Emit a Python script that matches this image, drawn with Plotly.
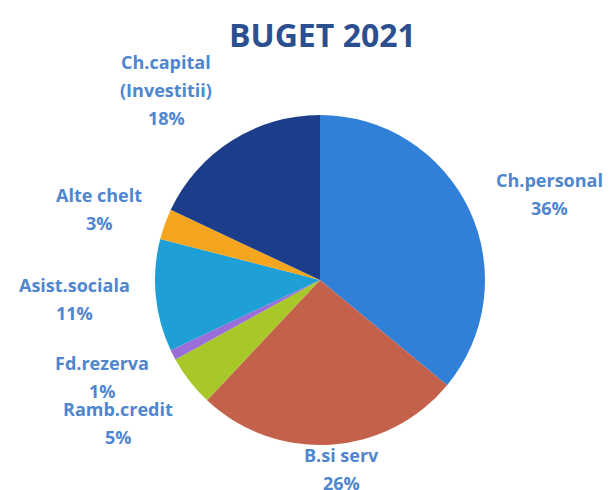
import plotly.graph_objects as go

# Data
categories = ["Ch.personal", "B.si serv", "Ramb.credit", "Fd.rezerva",
              "Asist.sociala", "Alte chelt", "Ch.capital (Investitii)"]
label_lines = [["Ch.personal"], ["B.si serv"], ["Ramb.credit"], ["Fd.rezerva"],
               ["Asist.sociala"], ["Alte chelt"], ["Ch.capital", "(Investitii)"]]
values = [36, 26, 5, 1, 11, 3, 18]
colors = ["#2f80d6", "#c4614a", "#a8c82a", "#9a6ed8", "#1e9fd6", "#f6a51f", "#1c3d8a"]

W, H = 613, 490
OFF = 8  # page body margin compensation
# label anchor (first line centre) in pixels of the target picture
label_pos = [(549, 180), (341, 455), (118, 409), (102, 363),
             (74, 285), (99, 195), (166, 62)]
line_gap = 28
cx, cy, r = 320 - OFF, 280 - OFF, 165


def px(x):
    return (x - OFF) / W


def py(y):
    return 1 - (y - OFF) / H


fig = go.Figure(go.Pie(
    labels=categories, values=values, sort=False, direction="clockwise",
    rotation=0, marker=dict(colors=colors, line=dict(width=0)),
    textinfo="none", hoverinfo="label+percent",
    domain=dict(x=[(cx - r) / W, (cx + r) / W],
                y=[(H - cy - r) / H, (H - cy + r) / H]),
    showlegend=False,
))

total = sum(values)
ann = []
for lines, v, (lx, ly) in zip(label_lines, values, label_pos):
    pct = f"{round(100 * v / total)}%"
    for i, t in enumerate(lines + [pct]):
        ann.append(dict(x=px(lx), y=py(ly + i * line_gap), xref="paper", yref="paper",
                        text=t, showarrow=False, xanchor="center", yanchor="middle",
                        font=dict(family="Open Sans", size=18, color="#4f86cf", weight="bold")))

ann.append(dict(x=px(322), y=py(35), xref="paper", yref="paper", text="BUGET 2021",
                showarrow=False, xanchor="center", yanchor="middle",
                font=dict(family="Open Sans", size=32, color="#2b4f8f", weight="bold")))

fig.update_layout(width=W, height=H, margin=dict(l=0, r=0, t=0, b=0),
                  paper_bgcolor="white", plot_bgcolor="white", annotations=ann)
fig.write_html("out.html")
